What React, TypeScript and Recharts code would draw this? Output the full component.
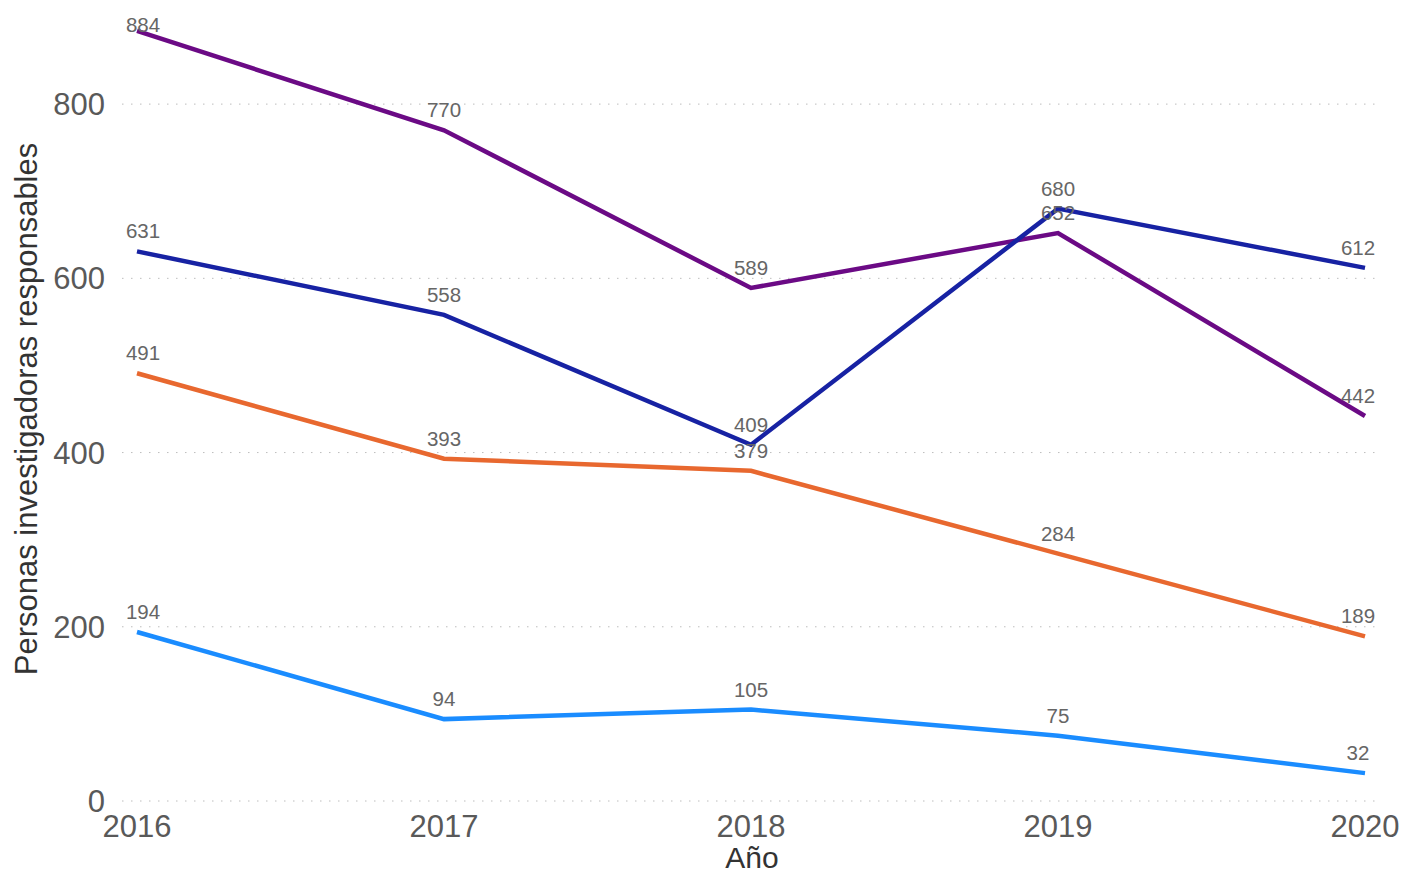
import { CartesianGrid, LabelList, Line, LineChart, XAxis, YAxis } from 'recharts';

const years = [2016, 2017, 2018, 2019, 2020];
const serieMorada = [884, 770, 589, 652, 442];
const serieAzul = [631, 558, 409, 680, 612];
const serieNaranja = [491, 393, 379, 284, 189];
const serieCeleste = [194, 94, 105, 75, 32];
const yTicks = [0, 200, 400, 600, 800];

const series = [
  { key: 'morada', color: '#6B0A85' },
  { key: 'azul', color: '#1722A3' },
  { key: 'naranja', color: '#E8682F' },
  { key: 'celeste', color: '#1A8CFF' },
];

const chartData = years.map((year, i) => ({
  year,
  morada: serieMorada[i],
  azul: serieAzul[i],
  naranja: serieNaranja[i],
  celeste: serieCeleste[i],
}));

const FONT = '"Liberation Sans", Arial, sans-serif';

// labels sit above the point, but are kept inside the panel
function PointLabel(props: any) {
  const { x, y, value } = props;
  const base = Math.max(y - 13, 32);
  const cx = Math.min(Math.max(x, 143), 1358);
  return (
    <text x={cx} y={base} textAnchor="middle" fontSize={20.5} fill="#666" fontFamily={FONT}>
      {value}
    </text>
  );
}

export default function App() {
  return (
    <div style={{ position: 'absolute', left: 0, top: 0, background: '#fff' }}>
      <LineChart
        width={1402}
        height={874}
        data={chartData}
        margin={{ top: 17, right: 20, left: 0, bottom: 0 }}
      >
        <CartesianGrid
          vertical={false}
          stroke="#bdbdbd"
          strokeDasharray="1.5 7.5"
          horizontalValues={yTicks}
        />
        <XAxis
          dataKey="year"
          type="number"
          domain={[2016, 2020]}
          ticks={years}
          padding={{ left: 15, right: 17 }}
          axisLine={false}
          tickLine={false}
          tickSize={0}
          tickMargin={14}
          height={73}
          tick={{ fontSize: 31, fill: '#595959', fontFamily: FONT }}
          label={{
            value: 'Año',
            position: 'insideBottom',
            offset: 6,
            fontSize: 30,
            fill: '#333',
            fontFamily: FONT,
          }}
        />
        <YAxis
          domain={[0, 900]}
          ticks={yTicks}
          axisLine={false}
          tickLine={false}
          tickSize={0}
          tickMargin={17}
          width={122}
          tick={{ fontSize: 31, fill: '#595959', fontFamily: FONT }}
          label={{
            value: 'Personas investigadoras responsables',
            angle: -90,
            position: 'insideLeft',
            offset: 26,
            fontSize: 31,
            fill: '#333',
            fontFamily: FONT,
            style: { textAnchor: 'middle' },
          }}
        />
        {series.map((s) => (
          <Line
            key={s.key}
            dataKey={s.key}
            stroke={s.color}
            strokeWidth={4.5}
            dot={false}
            activeDot={false}
            isAnimationActive={false}
          >
            <LabelList dataKey={s.key} content={PointLabel} />
          </Line>
        ))}
      </LineChart>
    </div>
  );
}
